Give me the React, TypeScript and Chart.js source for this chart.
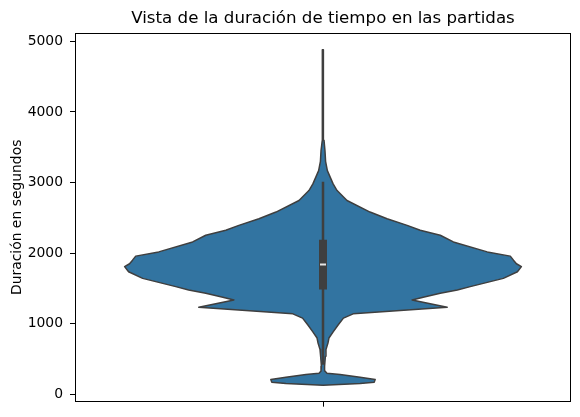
import React, { useEffect, useRef } from 'react';
import { Chart, registerables } from 'chart.js';

Chart.register(...registerables);

// Duration values (seconds) where the violin outline was sampled
const durations = [
  131, 155, 173, 211, 244, 282, 300, 330, 400, 540, 634, 728, 798, 892, 986, 1080,
  1141, 1234, 1338, 1376, 1432, 1479, 1526, 1643, 1737, 1810, 1850, 1901, 1958,
  2018, 2159, 2254, 2324, 2394, 2488, 2582, 2746, 2887, 2981, 3169, 3300, 3451,
  3600, 3800, 4200, 4880,
];
// Relative density (kde, max = 1) at each duration
const densities = [
  0, 0.187, 0.258, 0.263, 0.187, 0.086, 0.02, 0.01, 0.008, 0.012, 0.015, 0.025, 0.03,
  0.053, 0.077, 0.103, 0.152, 0.626, 0.449, 0.505, 0.591, 0.677, 0.742, 0.909, 0.98,
  1.0, 0.975, 0.96, 0.944, 0.828, 0.657, 0.591, 0.49, 0.424, 0.323, 0.237, 0.121,
  0.071, 0.051, 0.022, 0.013, 0.01, 0.005, 0.003, 0.002, 0.001,
];
const quartiles = [1485, 1840, 2190]; // Q1, median, Q3
const whiskers = [420, 3010];
const yTicks = [0, 1000, 2000, 3000, 4000, 5000];
const xTicks = [0];
const chartTitle = 'Vista de la duración de tiempo en las partidas';
const yTitle = 'Duración en segundos';

const HALF_WIDTH = 0.4;
const FILL = '#3274a1';
const LINE = '#3f3f3f';
const FONT = "'DejaVu Sans', sans-serif";

const violinFill = {
  id: 'violinFill',
  beforeDatasetDraw(chart: any, args: any) {
    if (args.index !== 0) return;
    const pts = args.meta.data;
    const ctx = chart.ctx;
    const a = chart.chartArea;
    ctx.save();
    ctx.beginPath();
    ctx.rect(a.left, a.top, a.right - a.left, a.bottom - a.top);
    ctx.clip();
    ctx.beginPath();
    pts.forEach((p: any, i: number) => (i === 0 ? ctx.moveTo(p.x, p.y) : ctx.lineTo(p.x, p.y)));
    ctx.closePath();
    ctx.fillStyle = FILL;
    ctx.fill();
    ctx.restore();
  },
};

const frame = {
  id: 'frame',
  afterDraw(chart: any) {
    const { ctx, chartArea: a } = chart;
    ctx.save();
    ctx.strokeStyle = '#000';
    ctx.lineWidth = 1;
    ctx.strokeRect(Math.round(a.left) + 0.5, Math.round(a.top) + 0.5, Math.round(a.right - a.left) - 1, Math.round(a.bottom - a.top) - 1);
    ctx.restore();
  },
};

export default function App() {
  const ref = useRef<HTMLCanvasElement>(null);
  useEffect(() => {
    if (!ref.current) return;
    const right = durations.map((v, i) => ({ x: densities[i] * HALF_WIDTH, y: v }));
    const left = durations
      .map((v, i) => ({ x: -densities[i] * HALF_WIDTH, y: v }))
      .reverse();
    const outline = [...right, ...left, right[0]];

    const chart = new Chart(ref.current, {
      type: 'scatter',
      data: {
        datasets: [
          {
            data: outline,
            showLine: true,
            borderColor: LINE,
            borderWidth: 1.5,
            borderJoinStyle: 'round',
            pointRadius: 0,
            fill: false,
            order: 3,
          } as any,
          {
            data: [
              { x: 0, y: whiskers[0] },
              { x: 0, y: whiskers[1] },
            ],
            showLine: true,
            borderColor: LINE,
            borderWidth: 2.5,
            pointRadius: 0,
            order: 2,
          },
          {
            data: [
              { x: 0, y: quartiles[0] },
              { x: 0, y: quartiles[2] },
            ],
            showLine: true,
            borderColor: LINE,
            borderWidth: 8,
            borderCapStyle: 'butt',
            pointRadius: 0,
            order: 1,
          },
          {
            data: [{ x: 0, y: quartiles[1] }],
            showLine: false,
            pointStyle: 'line',
            pointRadius: 3,
            pointBorderWidth: 2,
            pointBorderColor: '#e6e6e6',
            pointBackgroundColor: '#e6e6e6',
            order: 0,
          },
        ],
      },
      options: {
        animation: false,
        responsive: false,
        devicePixelRatio: 1,
        events: [],
        layout: { autoPadding: false, padding: { left: 0, right: 9, top: 0, bottom: 0 } },
        plugins: {
          legend: { display: false },
          tooltip: { enabled: false },
          title: {
            display: true,
            fullSize: false,
            text: chartTitle,
            color: '#000',
            font: { family: FONT, size: 16.67, weight: 'normal', lineHeight: 1.2 },
            padding: { top: 8.5, bottom: 4.5 },
          },
        },
        scales: {
          x: {
            type: 'linear',
            min: -0.5,
            max: 0.5,
            afterBuildTicks: (s: any) => {
              s.ticks = xTicks.map((v) => ({ value: v }));
            },
            afterFit: (s: any) => {
              s.height = 15;
            },
            ticks: { callback: () => '', color: '#000', font: { family: FONT, size: 13.9 } },
            grid: { drawOnChartArea: false, drawTicks: true, tickLength: 5, color: '#000' },
            border: { display: false },
          },
          y: {
            type: 'linear',
            min: -103,
            max: 5118,
            afterBuildTicks: (s: any) => {
              s.ticks = yTicks.map((v) => ({ value: v }));
            },
            afterFit: (s: any) => {
              s.width = 75;
            },
            ticks: {
              color: '#000',
              padding: 7,
              font: { family: FONT, size: 13.9 },
              callback: (v: any) => String(v),
            },
            grid: { drawOnChartArea: false, drawTicks: true, tickLength: 5, color: '#000' },
            border: { display: false },
            title: {
              display: true,
              text: yTitle,
              color: '#000',
              font: { family: FONT, size: 13.9, lineHeight: 1.2 },
              padding: { top: 8.7, bottom: 0 },
            },
          },
        },
      },
      plugins: [violinFill, frame],
    });
    return () => chart.destroy();
  }, []);

  return (
    <div style={{ position: 'fixed', left: 0, top: 0, width: 580, height: 417, background: '#fff' }}>
      <canvas ref={ref} width={580} height={417} style={{ display: 'block', width: 580, height: 417 }} />
    </div>
  );
}
